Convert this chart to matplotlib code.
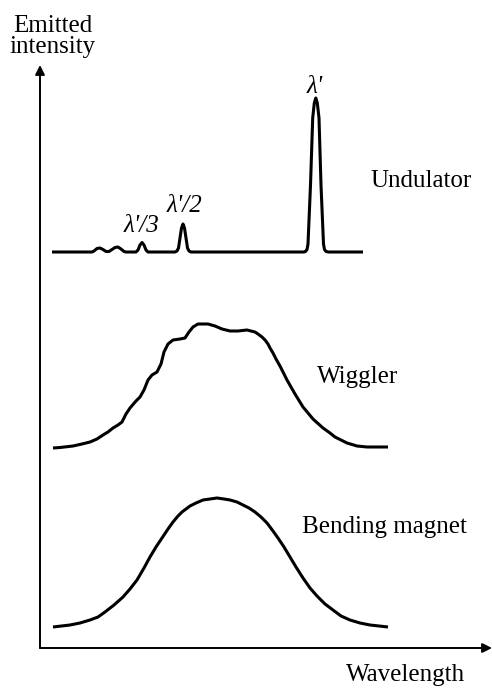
import matplotlib
matplotlib.use("Agg")
import matplotlib.pyplot as plt

# ---- data (arbitrary units: wavelength, emitted intensity incl. vertical offset) ----
und_wl = [12, 52, 54, 57, 60, 63, 66, 69, 72, 75, 78, 81, 84, 86, 96, 98, 100, 102, 104, 106,
          108, 135, 137, 138.5, 140, 141.5, 143, 144.5, 146, 147.5, 149, 151, 264, 265.5, 267,
          268, 270.5, 272.7, 274.3, 275.8, 277.3, 279, 281, 283.5, 284.5, 286, 288.5, 323]
und_int = [396, 396, 397, 399.5, 400, 398.5, 396.5, 396.5, 398.5, 400.5, 401, 399, 396.5, 396,
           396, 398, 403, 405.5, 403, 398, 396, 396, 397, 400, 410, 420, 424, 420, 410, 400,
           397, 396, 396, 396.5, 398.5, 404, 463, 530, 545, 550, 545, 530, 463, 404, 398.5,
           396.5, 396, 396]

wig_wl = [13, 20, 33, 42, 50, 57, 63, 68, 73, 78, 82, 86, 90, 96, 100, 104, 108, 112, 117, 121,
          124, 128, 133, 140, 145, 149, 153, 158, 163, 168, 175, 182, 190, 198, 207, 215, 218,
          222, 225, 228, 230, 233, 236, 240, 247, 255, 263, 273, 283, 290, 295, 301, 307, 312,
          317, 322, 327, 335, 348]
wig_int = [200, 200.5, 202, 204, 206, 209, 213, 216, 220, 223, 226, 234, 240, 247, 251, 258, 268,
           273, 276, 284, 296, 304, 308, 309, 310, 316, 321, 324, 324, 324, 322, 319, 317, 317,
           318, 316, 314, 311, 308, 304, 300, 295, 289, 282, 268, 254, 241, 229, 220, 215, 211,
           208, 205, 203.5, 202, 201.5, 201, 201, 201]

bm_wl = [13, 30, 40, 50, 58, 65, 74, 83, 90, 97, 104, 110, 116, 122, 128, 133, 138, 142, 146,
         150, 156, 163, 170, 177, 184, 190, 197, 203, 209, 215, 221, 227, 233, 238, 244, 250,
         256, 263, 270, 277, 285, 293, 301, 310, 320, 330, 339, 348]
bm_int = [21, 23, 25, 28, 31, 36, 43, 51, 59, 68, 80, 91, 101, 110, 119, 126, 132, 136, 139,
          142, 145, 148, 149, 150, 149, 148, 146, 143, 140, 136, 131, 125, 117, 110, 101, 91,
          81, 70, 60, 52, 44, 38, 32, 28, 25, 23, 22, 21]

source_labels = ["Undulator", "Wiggler", "Bending magnet"]
harmonic_labels = ["λ'/3", "λ'/2", "λ'"]
axis_labels = ["Emitted", "intensity", "Wavelength"]

W, H = 492, 688
fig = plt.figure(figsize=(W / 100, H / 100), dpi=100)
fig.patch.set_facecolor("white")
ax = fig.add_axes([40 / W, 40 / H, 452 / W, 583 / H])
ax.set_xlim(0, 452)
ax.set_ylim(0, 583)
for s in ax.spines.values():
    s.set_visible(False)
ax.set_xticks([])
ax.set_yticks([])
ax.patch.set_alpha(0)

lw = 2.2
for xs, ys in [(und_wl, und_int), (wig_wl, wig_int), (bm_wl, bm_int)]:
    ax.plot(xs, ys, color="black", lw=lw, solid_joinstyle="round", solid_capstyle="butt", clip_on=False)

# axes arrows
ap = dict(arrowstyle="-|>", lw=1.4, color="black", mutation_scale=14, shrinkA=0, shrinkB=0)
ax.annotate("", xy=(452, 0), xytext=(0, 0), arrowprops=ap, annotation_clip=False)
ax.annotate("", xy=(0, 583), xytext=(0, 0), arrowprops=ap, annotation_clip=False)

serif = ["Liberation Serif", "DejaVu Serif"]
fs = 18
ax.text(330, 461, source_labels[0], fontsize=fs, family=serif, ha="left", va="baseline")
ax.text(277, 265, source_labels[1], fontsize=fs, family=serif, ha="left", va="baseline")
ax.text(262, 115, source_labels[2], fontsize=fs, family=serif, ha="left", va="baseline")

fsl = 18
ax.text(101, 416, harmonic_labels[0], fontsize=fsl, family=serif, style="italic", ha="center", va="baseline")
ax.text(144, 436, harmonic_labels[1], fontsize=fsl, family=serif, style="italic", ha="center", va="baseline")
ax.text(275, 555, harmonic_labels[2], fontsize=fsl, family=serif, style="italic", ha="center", va="baseline")

ax.text(13, 616, axis_labels[0], fontsize=fs, family=serif, ha="center", va="baseline", clip_on=False)
ax.text(13, 595, axis_labels[1], fontsize=fs, family=serif, ha="center", va="baseline", clip_on=False)
ax.text(366, -33, axis_labels[2], fontsize=fs, family=serif, ha="center", va="baseline", clip_on=False)

fig.savefig("out.png", dpi=100, facecolor="white")
